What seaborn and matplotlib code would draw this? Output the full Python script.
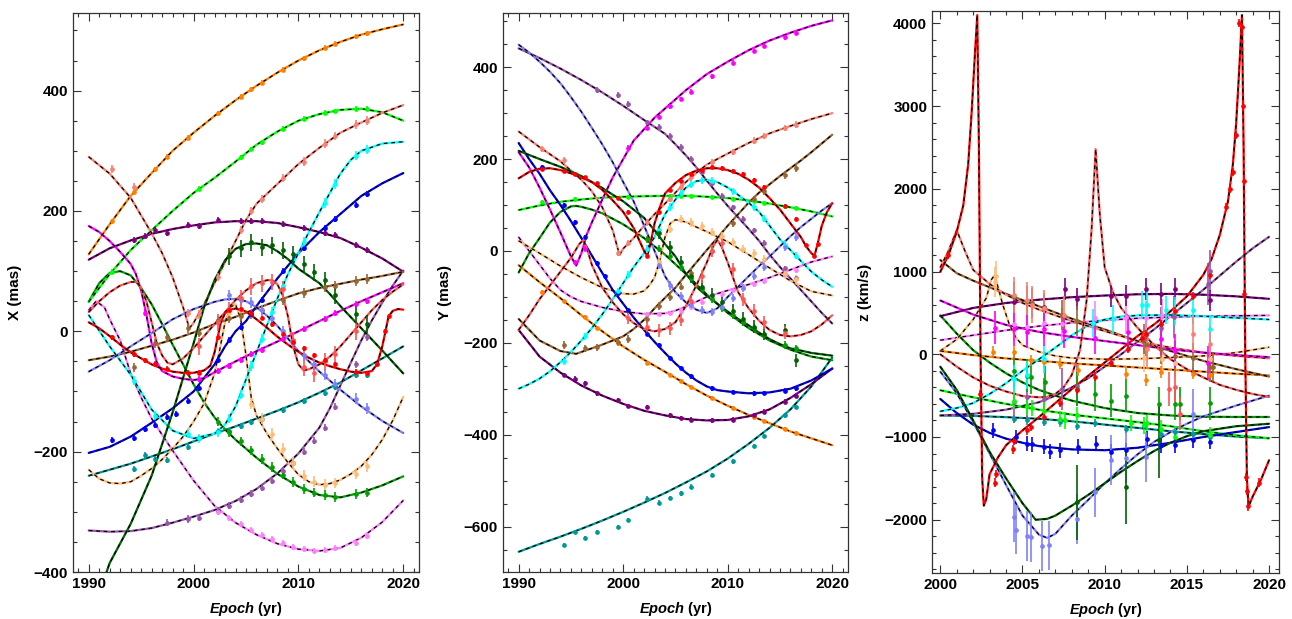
import matplotlib
matplotlib.use('Agg')
import matplotlib.pyplot as plt
import seaborn as sns
from matplotlib.ticker import MultipleLocator

# ---------------- data ----------------
yrs1 = list(range(1990, 2021))
yrs2 = list(range(1990, 2021, 2))
yrs2z = list(range(2000, 2021, 2))

# orange
t_x_orange = yrs2
x_orange = [128, 178, 225, 263, 300, 330, 358, 384, 408, 430, 450, 467, 481, 493, 502, 510]
t_y_orange = yrs2
y_orange = [-31, -68, -103, -140, -175, -208, -237, -263, -290, -315, -337, -357, -375, -393, -408, -423]
t_z_orange = yrs2z
z_orange = [40, -10, -50, -80, -110, -135, -160, -185, -210, -235, -255]
obs_t_orange = [1992.2, 1994.3, 1996.3, 1997.5, 1999.5, 2002.3, 2004.5, 2005.5, 2006.5, 2008.5, 2010.5, 2012.5, 2013.5, 2015.5, 2016.5]
obs_x_orange = [183, 231, 269, 290, 322, 362, 390, 402, 413, 435, 454, 471, 478, 490, 495]
obs_y_orange = [-90, -110, -143, -168, -200, -243, -270, -283, -296, -320, -342, -362, -371, -388, -397]
obs_tz_orange = [2003.2, 2004.5, 2005.5, 2006.3, 2007.3, 2008.4, 2011.3, 2012.5, 2013.4, 2015.4, 2016.4]
obs_z_orange = [28, 28, -73, -93, -113, -193, -234, -314, -213, -234, -254]

# lime
t_x_lime = yrs2
x_lime = [49, 95, 135, 168, 200, 230, 255, 282, 310, 332, 350, 361, 368, 370, 364, 350]
t_y_lime = yrs2
y_lime = [89, 99, 107, 112, 116, 118, 119, 120, 120, 118, 115, 110, 103, 95, 86, 75]
t_z_lime = yrs2z
z_lime = [-435, -520, -600, -670, -730, -775, -820, -870, -930, -980, -1015]
obs_t_lime = [1992.2, 1995.4, 2000.5, 2004.5, 2005.5, 2006.5, 2008.5, 2010.5, 2012.5, 2013.5, 2015.5, 2016.5]
obs_x_lime = [99, 158, 237, 289, 303, 314, 337, 353, 363, 366, 370, 370]
obs_y_lime = [107, 113, 118, 120, 120, 120, 118, 114, 109, 105, 97, 93]
obs_tz_lime = [2004.5, 2005.3, 2005.6, 2006.3, 2007.3, 2007.6, 2008.3, 2011.6, 2012.4, 2012.6, 2013.4, 2014.3, 2016.4]
obs_z_lime = [-560, -630, -650, -680, -780, -800, -740, -830, -860, -830, -900, -1000, -980]

# salmon
t_x_salmon = [1990, 1992, 1994, 1996, 1997, 1998, 1999, 1999.6, 2000, 2001, 2002, 2003, 2004, 2005, 2006, 2008, 2010, 2012, 2014, 2016, 2018, 2020]
x_salmon = [290, 262, 222, 163, 130, 90, 40, 5, 14, 45, 80, 115, 150, 185, 212, 245, 278, 305, 330, 347, 363, 376]
t_y_salmon = [1990, 1992, 1994, 1996, 1997, 1998, 1999, 1999.65, 2000, 2001, 2002, 2003, 2004, 2005, 2006, 2007, 2008, 2010, 2012, 2014, 2016, 2018, 2020]
y_salmon = [260, 226, 195, 155, 130, 95, 45, -9, 5, 28, 55, 80, 103, 127, 150, 170, 188, 212, 235, 256, 272, 287, 300]
t_z_salmon = [2000, 2000.5, 2001, 2001.5, 2002, 2003, 2004, 2005, 2006, 2008, 2010, 2012, 2014, 2016, 2018, 2020]
z_salmon = [1050, 1250, 1500, 1250, 1020, 850, 720, 620, 540, 400, 280, 160, 80, 20, -20, -50]
obs_t_salmon = [1992.2, 1994.3, 1999.5, 2000.5, 2002.3, 2004.5, 2005.5, 2006.5, 2008.5, 2010.5, 2012.5, 2013.5, 2015.5, 2016.5]
obs_x_salmon = [270, 240, 30, 28, 90, 168, 200, 220, 255, 282, 312, 325, 344, 350]
obs_y_salmon = [222, 197, -5, 17, 62, 113, 139, 160, 193, 215, 240, 250, 268, 275]
obs_tz_salmon = [2004.5, 2005.3, 2005.6, 2006.3, 2007.5, 2012.6, 2015.4, 2016.4]
obs_z_salmon = [720, 650, 600, 560, 480, 60, 250, 120]

# cyan
t_x_cyan = [1990, 1992, 1994, 1996, 1998, 2000, 2002, 2003, 2004, 2005, 2006, 2007, 2008, 2009, 2010, 2011, 2012, 2013, 2014, 2015, 2016, 2018, 2020]
x_cyan = [27, -25, -72, -130, -165, -178, -170, -155, -125, -80, -35, 10, 55, 95, 130, 165, 198, 230, 262, 285, 300, 312, 315]
t_y_cyan = yrs1
y_cyan = [-300, -290, -278, -262, -242, -220, -195, -168, -138, -105, -70, -35, -5, 30, 80, 112, 138, 152, 155, 150,
          138, 122, 105, 85, 55, 25, 2, -22, -45, -63, -78]
t_z_cyan = [2000, 2001, 2002, 2003, 2004, 2005, 2006, 2007, 2008, 2009, 2010, 2011, 2012, 2014, 2016, 2018, 2020]
z_cyan = [-690, -650, -590, -480, -350, -200, -60, 80, 230, 350, 420, 455, 470, 475, 460, 440, 420]
obs_t_cyan = [1994.3, 1996.3, 1999.5, 2000.5, 2002.3, 2003.4, 2004.5, 2005.5, 2006.5, 2007.5, 2008.5, 2010.5, 2012.5, 2013.5, 2015.5, 2016.5]
obs_x_cyan = [-82, -140, -170, -178, -168, -145, -105, -58, -12, 32, 75, 148, 213, 245, 292, 302]
obs_y_cyan = [-240, -186, -88, -52, 4, 46, 96, 126, 146, 154, 153, 130, 95, 70, 13, -10]
obs_tz_cyan = [2004.5, 2005.3, 2006.3, 2009.3, 2010.5, 2012.3, 2012.6, 2013.7, 2014.3, 2015.4, 2016.4]
obs_z_cyan = [-300, -250, -60, 380, 430, 600, 590, 530, 520, 540, 300]

# blue
t_x_blue = [1990, 1992, 1994, 1996, 1998, 2000, 2002, 2003, 2004, 2005, 2006, 2008, 2010, 2012, 2014, 2016, 2018, 2020]
x_blue = [-202, -192, -175, -152, -128, -100, -55, -25, 0, 17, 42, 88, 130, 165, 195, 225, 246, 263]
t_y_blue = list(range(1990, 2011)) + [2012, 2014, 2016, 2018, 2020]
y_blue = [235, 200, 168, 132, 100, 65, 28, -10, -48, -85, -115, -145, -172, -198, -222, -245, -265, -282, -295, -303,
          -306, -310, -308, -300, -282, -256]
t_z_blue = [2000, 2001, 2002, 2003, 2004, 2005, 2006, 2008, 2010, 2012, 2014, 2016, 2018, 2020]
z_blue = [-540, -710, -850, -950, -1020, -1070, -1110, -1150, -1160, -1130, -1070, -1000, -940, -880]
obs_t_blue = [1992.2, 1994.3, 1995.4, 1996.3, 1997.5, 1998.3, 1999.5, 2000.5, 2002.3, 2003.4, 2004.5, 2005.5, 2006.5, 2008.5, 2010.5, 2012.5, 2013.5, 2015.5, 2016.5]
obs_x_blue = [-180, -178, -163, -155, -142, -137, -115, -95, -48, -15, 8, 28, 52, 100, 138, 172, 187, 210, 228]
obs_y_blue = [182, 99, 62, 30, -27, -55, -92, -129, -180, -205, -233, -255, -273, -299, -307, -310, -309, -304, -299]
obs_tz_blue = [2003.2, 2004.6, 2005.3, 2005.6, 2006.3, 2006.7, 2007.3, 2008.4, 2009.5, 2010.4, 2011.3, 2012.6, 2013.4, 2014.3, 2015.4, 2016.4]
obs_z_blue = [-920, -1000, -1080, -1090, -1120, -1180, -1160, -1120, -1080, -1180, -1160, -1020, -1100, -1100, -1040, -1060]

# purple
t_x_purple = yrs2
x_purple = [119, 138, 151, 162, 170, 176, 181, 183, 183, 180, 173, 165, 155, 139, 121, 99]
t_y_purple = yrs2
y_purple = [-172, -230, -265, -293, -315, -333, -348, -358, -366, -369, -368, -360, -345, -320, -290, -256]
t_z_purple = yrs2z
z_purple = [460, 560, 620, 660, 690, 710, 725, 730, 720, 700, 670]
obs_t_purple = [1994.3, 1995.4, 1996.3, 1997.5, 1999.5, 2000.5, 2002.3, 2004.5, 2005.5, 2006.5, 2008.5, 2010.5, 2012.5, 2013.5, 2015.5, 2016.5]
obs_x_purple = [152, 158, 168, 163, 176, 175, 185, 183, 183, 183, 179, 172, 163, 160, 143, 135]
obs_y_purple = [-270, -278, -288, -310, -325, -338, -340, -358, -364, -367, -369, -367, -357, -350, -328, -315]
obs_tz_purple = [2004.5, 2006.3, 2007.6, 2008.3, 2010.4, 2011.3, 2012.5, 2013.4, 2014.3, 2016.4]
obs_z_purple = [630, 570, 790, 670, 700, 710, 790, 730, 790, 650]

# dark green
t_x_dkgreen = [1991.6, 1992, 1994, 1996, 1998, 2000, 2001, 2002, 2003, 2004, 2005, 2006, 2007, 2008, 2009, 2010, 2011, 2012, 2013, 2014, 2016, 2018, 2020]
x_dkgreen = [-405, -385, -320, -240, -135, -20, 40, 85, 118, 137, 145, 146, 143, 133, 120, 104, 92, 80, 62, 42, 5, -32, -70]
t_y_dkgreen = [1990, 1992, 1994, 1996, 1998, 2000, 2002, 2003, 2004, 2005, 2006, 2007, 2008, 2009, 2010, 2011, 2012, 2013, 2014, 2015, 2016, 2018, 2020]
y_dkgreen = [218, 200, 183, 163, 137, 108, 72, 45, 15, -12, -50, -78, -98, -115, -132, -148, -162, -178, -192, -203, -212, -222, -228]
t_z_dkgreen = [2000, 2001, 2002, 2003, 2004, 2005, 2005.8, 2006.5, 2007, 2008, 2009, 2010, 2011, 2012, 2013, 2014, 2015, 2016, 2018, 2020]
z_dkgreen = [-150, -430, -800, -1180, -1500, -1800, -2000, -1990, -1950, -1830, -1700, -1560, -1420, -1290, -1170, -1070, -990, -930, -870, -840]
obs_t_dkgreen = [2003.4, 2004.5, 2005.5, 2006.5, 2007.5, 2008.5, 2009.5, 2010.5, 2011.5, 2012.5, 2013.5, 2015.5, 2016.5]
obs_x_dkgreen = [125, 138, 148, 140, 143, 135, 128, 112, 98, 85, 60, 28, 12]
obs_y_dkgreen = [40, 8, -25, -55, -78, -95, -112, -130, -148, -165, -180, -172, -238]
obs_tz_dkgreen = [2008.3, 2011.3, 2013.3]
obs_z_dkgreen = [-1790, -1600, -1040]

# brown
t_x_brown = yrs2
x_brown = [-48, -42, -34, -24, -14, -2, 12, 24, 38, 51, 63, 72, 79, 86, 92, 99]
t_y_brown = [1990, 1992, 1994, 1995.5, 1997, 1998, 2000, 2001, 2002, 2003, 2004, 2005, 2006, 2007, 2008, 2009, 2010, 2011, 2012, 2013, 2014, 2015, 2016, 2017, 2018, 2019, 2020]
y_brown = [-148, -195, -218, -224, -212, -204, -186, -170, -150, -125, -102, -80, -52, -25, 2, 28, 55, 80, 105, 127, 145, 163, 180, 197, 215, 234, 253]
t_z_brown = [2000, 2001, 2002, 2004, 2006, 2008, 2010, 2012, 2014, 2016, 2018, 2020]
z_brown = [1140, 980, 890, 730, 580, 430, 300, 160, 40, -80, -180, -270]
obs_t_brown = [1994.3, 1996.3, 1997.5, 1999.5, 2000.5, 2002.3, 2003.4, 2004.5, 2005.5, 2006.5, 2008.5, 2010.5, 2012.5, 2013.5, 2015.5, 2016.5]
obs_x_brown = [-60, -20, -10, 5, -2, 18, 22, 25, 28, 36, 52, 64, 73, 76, 84, 87]
obs_y_brown = [-205, -212, -210, -198, -192, -148, -120, -100, -78, -48, 0, 60, 112, 130, 165, 180]
obs_tz_brown = [2004.5, 2005.3, 2005.6, 2006.3, 2007.4, 2008.3, 2012.4, 2012.6, 2013.4, 2014.3, 2015.4, 2016.4, 2016.6]
obs_z_brown = [690, 640, 620, 560, 470, 400, 180, 110, 60, -20, -40, -150, -150]

# magenta
t_x_magenta = [1990, 1991, 1992, 1993, 1994, 1994.5, 1995, 1995.5, 1996, 1996.5, 1997, 1998, 1999, 2000, 2001, 2002, 2004, 2006, 2008, 2010, 2012, 2014, 2016, 2018, 2020]
x_magenta = [175, 165, 150, 132, 112, 95, 68, 28, -20, -52, -66, -75, -79, -81, -78, -68, -50, -33, -17, 0, 17, 34, 50, 65, 80]
t_y_magenta = [1990, 1991, 1992, 1993, 1994, 1995, 1995.5, 1996, 1996.5, 1997, 1998, 1999, 2000, 2001, 2002, 2003, 2004, 2006, 2008, 2010, 2012, 2014, 2016, 2018, 2020]
y_magenta = [215, 182, 138, 90, 40, -12, -32, -5, 35, 62, 112, 160, 200, 240, 265, 290, 310, 350, 385, 412, 437, 458, 475, 490, 502]
t_z_magenta = yrs2z
z_magenta = [650, 480, 355, 270, 210, 160, 110, 60, 20, -10, -35]
obs_t_magenta = [1995.4, 1996.3, 2000.5, 2002.3, 2003.4, 2004.5, 2005.5, 2006.5, 2008.5, 2010.5, 2012.5, 2013.5, 2015.5, 2016.5]
obs_x_magenta = [30, -55, -80, -66, -58, -47, -38, -31, -13, 4, 21, 30, 45, 51]
obs_y_magenta = [-25, 5, 225, 268, 292, 315, 331, 347, 380, 410, 435, 447, 465, 475]
obs_tz_magenta = [2003.3, 2004.5, 2005.3, 2006.3, 2007.5, 2009.4, 2011.4, 2013.4, 2014.3, 2016.3]
obs_z_magenta = [320, 300, 270, 300, 280, 200, 270, 190, 40, -100]

# slate blue
t_x_slate = [1990, 1992, 1994, 1996, 1998, 2000, 2002, 2003, 2004, 2005, 2006, 2007, 2008, 2009, 2010, 2012, 2014, 2016, 2018, 2020]
x_slate = [-67, -48, -25, -3, 20, 37, 49, 53, 54, 50, 40, 26, 9, -12, -33, -67, -97, -125, -149, -169]
t_y_slate = yrs1
y_slate = [449, 432, 412, 390, 365, 335, 303, 268, 232, 193, 150, 108, 55, 0, -55, -90, -112, -128, -135, -125,
           -100, -78, -55, -33, -12, 10, 32, 52, 70, 88, 104]
t_z_slate = [2000, 2001, 2002, 2003, 2004, 2005, 2006, 2006.5, 2007, 2008, 2009, 2010, 2011, 2012, 2013, 2014, 2015, 2016, 2018, 2020]
z_slate = [-210, -470, -820, -1200, -1580, -1950, -2180, -2220, -2170, -1950, -1760, -1560, -1380, -1210, -1060, -940, -840, -750, -620, -500]
obs_t_slate = [2003.4, 2004.5, 2005.5, 2006.5, 2007.5, 2008.5, 2009.5, 2010.5, 2011.5, 2012.5, 2013.5, 2015.5, 2016.5]
obs_x_slate = [60, 52, 48, 35, 22, 0, -20, -40, -55, -72, -88, -112, -128]
obs_y_slate = [-30, -75, -98, -118, -128, -133, -122, -102, -80, -55, -35, 8, 30]
obs_tz_slate = [2004.5, 2004.6, 2005.3, 2005.5, 2006.2, 2006.6, 2008.3, 2009.4, 2010.4, 2011.3, 2012.5, 2015.4]
obs_z_slate = [-1970, -2120, -2200, -2210, -2320, -2310, -1990, -1670, -1280, -1250, -1240, -720]

# light red
t_x_ltred = [1990, 1991, 1992, 1993, 1994, 1994.6, 1995, 1995.5, 1996, 1996.5, 1997, 1997.5, 1998, 1999, 2000, 2001, 2002, 2003, 2004, 2005,
             2006, 2007, 2007.5, 2008, 2008.5, 2009, 2009.5, 2010, 2010.5, 2011, 2012, 2013, 2014, 2015, 2016, 2017, 2018, 2019, 2020]
x_ltred = [32, 50, 65, 76, 82, 82, 72, 50, 15, -20, -40, -52, -55, -45, -28, -8, 12, 32, 52, 68,
           80, 85, 85, 78, 60, 25, -25, -55, -65, -63, -55, -42, -25, -5, 15, 35, 52, 66, 78]
t_y_ltred = [1990, 1991, 1992, 1993, 1994, 1995, 1995.8, 1996.2, 1996.6, 1997, 1998, 1999, 2000, 2001, 2002, 2003, 2004, 2005, 2006, 2007,
             2008, 2008.6, 2009, 2009.4, 2010, 2011, 2012, 2013, 2014, 2015, 2016, 2017, 2018, 2019, 2020]
y_ltred = [-172, -140, -105, -75, -45, -15, 15, 24, 0, -30, -80, -112, -138, -157, -170, -175, -170, -155, -120, -75,
           -25, 10, 24, 10, -25, -90, -125, -152, -172, -183, -186, -183, -175, -160, -140]
t_z_ltred = [2000, 2001, 2002, 2003, 2004, 2005, 2006, 2006.5, 2007, 2007.5, 2008, 2008.5, 2008.9, 2009.2, 2009.45, 2009.7, 2010, 2010.5, 2011, 2012,
             2013, 2014, 2015, 2016, 2017, 2018, 2019, 2020]
z_ltred = [0, -150, -280, -380, -450, -505, -520, -515, -480, -400, -250, 50, 650, 1500, 2480, 1700, 1050, 750, 560, 320,
           110, -60, -180, -280, -370, -430, -480, -516]
obs_t_ltred = [2000.5, 2002.3, 2003.4, 2004.5, 2005.5, 2006.5, 2007.5, 2008.5, 2009.5, 2010.5, 2011.5, 2012.5, 2013.5, 2015.5]
obs_x_ltred = [-25, 15, 35, 55, 75, 80, 82, 70, -15, -60, -70, -50, -38, 0]
obs_y_ltred = [-145, -165, -173, -168, -150, -110, -55, 0, 18, -40, -105, -130, -155, -178]
obs_tz_ltred = [2013.9, 2014.3, 2014.6]
obs_z_ltred = [-420, -400, -720]

# teal
t_x_teal = yrs2
x_teal = [-240, -230, -220, -208, -196, -183, -170, -158, -145, -132, -118, -102, -85, -65, -45, -25]
t_y_teal = yrs2
y_teal = [-655, -638, -622, -605, -587, -568, -548, -527, -504, -480, -452, -420, -385, -345, -295, -232]
t_z_teal = yrs2z
z_teal = [-740, -745, -760, -780, -810, -850, -890, -930, -965, -995, -1015]
obs_t_teal = [1994.3, 1995.4, 1996.3, 1997.5, 1999.5, 2000.5, 2002.3, 2003.4, 2004.5, 2005.5, 2006.5, 2008.5, 2010.5, 2012.5, 2013.5, 2015.5, 2016.5]
obs_x_teal = [-228, -206, -212, -214, -192, -178, -165, -165, -158, -150, -145, -130, -115, -102, -92, -72, -72]
obs_y_teal = [-640, -612, -625, -612, -601, -586, -539, -548, -538, -528, -513, -488, -458, -425, -403, -358, -340]
obs_tz_teal = [2004.5, 2005.3, 2006.3, 2007.3, 2008.3, 2009.4, 2011.3, 2012.4, 2013.4, 2014.3, 2015.4, 2016.4]
obs_z_teal = [-780, -800, -820, -820, -870, -830, -900, -870, -960, -940, -960, -1000]

# peach
t_x_peach = [1990, 1991, 1992, 1993, 1994, 1995, 1996, 1997, 1998, 1999, 2000, 2001, 2002, 2002.5, 2003, 2003.5, 2004, 2004.5, 2005, 2005.5,
             2006, 2007, 2008, 2009, 2010, 2011, 2012, 2013, 2014, 2015, 2016, 2017, 2018, 2019, 2020]
x_peach = [-230, -245, -252, -253, -250, -240, -228, -213, -195, -175, -150, -120, -70, -30, 15, 40, 45, 20, -40, -110,
           -140, -170, -195, -218, -238, -250, -255, -253, -247, -237, -224, -205, -180, -148, -109]
t_y_peach = [1990, 1992, 1994, 1996, 1998, 2000, 2001, 2002, 2002.5, 2003, 2003.5, 2004, 2004.5, 2005, 2006, 2007, 2008, 2010, 2012, 2014, 2016, 2018, 2020]
y_peach = [22, -5, -33, -58, -80, -93, -94, -87, -75, -58, -20, 30, 60, 68, 63, 52, 42, 20, -8, -37, -65, -88, -97]
t_z_peach = [2000, 2001, 2002, 2002.8, 2003.1, 2003.3, 2003.5, 2003.8, 2004.2, 2004.6, 2005, 2006, 2007, 2008, 2010, 2012, 2014, 2016, 2018, 2020]
z_peach = [40, 180, 420, 680, 900, 955, 820, 600, 360, 200, 110, 30, -20, -45, -60, -55, -40, -20, 20, 85]
obs_t_peach = [2003.4, 2004.5, 2005.5, 2006.5, 2007.5, 2008.5, 2009.5, 2010.5, 2011.5, 2012.5, 2013.5, 2015.5, 2016.5]
obs_x_peach = [30, 35, -120, -145, -170, -195, -218, -240, -250, -255, -252, -237, -224]
obs_y_peach = [-25, 48, 70, 62, 55, 42, 32, 20, 5, -5, -18, -48, -62]
obs_tz_peach = [2003.3, 2003.4, 2012.4, 2013.5, 2014.3, 2016.4]
obs_z_peach = [870, 950, -40, -60, -100, -60]

# green
t_x_green = [1990, 1991, 1992, 1993, 1994, 1995, 1996, 1997, 1998, 1999, 2000, 2001, 2002, 2003, 2004, 2006, 2008, 2010, 2012, 2014, 2016, 2018, 2020]
x_green = [49, 80, 97, 100, 93, 72, 45, 12, -22, -55, -88, -118, -143, -163, -180, -210, -237, -258, -272, -276, -268, -256, -241]
t_y_green = [1990, 1991, 1992, 1993, 1994, 1995, 1995.5, 1996, 1997, 1998, 2000, 2002, 2004, 2006, 2008, 2010, 2012, 2014, 2016, 2018, 2020]
y_green = [-47, -5, 28, 62, 85, 97, 98, 96, 90, 82, 58, 28, -8, -50, -95, -135, -168, -195, -215, -230, -238]
t_z_green = [2000, 2001, 2002, 2003, 2004, 2005, 2006, 2007, 2008, 2010, 2012, 2014, 2016, 2018, 2020]
z_green = [470, 250, 50, -100, -230, -340, -430, -500, -560, -650, -710, -740, -755, -758, -758]
obs_t_green = [2002.3, 2003.4, 2004.5, 2005.5, 2006.5, 2007.5, 2008.5, 2009.5, 2010.5, 2011.5, 2012.5, 2013.5, 2015.5, 2016.5]
obs_x_green = [-150, -168, -183, -198, -212, -225, -238, -250, -262, -268, -272, -275, -270, -268]
obs_y_green = [25, 5, -12, -35, -60, -82, -105, -125, -140, -155, -168, -182, -205, -212]
obs_tz_green = [2004.5, 2005.3, 2005.5, 2006.4, 2008.3, 2009.4, 2010.4, 2011.3, 2013.3, 2014.3, 2014.6, 2016.4]
obs_z_green = [-200, -260, -280, -340, -420, -480, -560, -500, -600, -600, -600, -590]

# orchid
t_x_orchid = [1990, 1992, 1994, 1996, 1998, 2000, 2002, 2004, 2006, 2008, 2010, 2012, 2013, 2014, 2015, 2016, 2017, 2018, 2019, 2020]
x_orchid = [-331, -333, -332, -327, -318, -308, -297, -282, -262, -236, -203, -160, -128, -90, -52, -15, 18, 48, 76, 101]
t_y_orchid = [1990, 1992, 1994, 1996, 1998, 2000, 2002, 2004, 2005, 2006, 2007, 2008, 2009, 2010, 2011, 2012, 2013, 2014, 2015, 2016, 2017, 2018, 2019, 2020]
y_orchid = [441, 420, 397, 372, 345, 316, 285, 255, 232, 208, 182, 153, 125, 98, 73, 48, 22, -8, -35, -60, -85, -110, -135, -158]
t_z_orchid = [2000, 2002, 2004, 2006, 2007, 2008, 2009, 2010, 2011, 2012, 2013, 2014, 2015, 2016, 2017, 2018, 2019, 2020]
z_orchid = [-740, -720, -670, -580, -500, -400, -290, -150, 0, 150, 300, 460, 620, 780, 950, 1120, 1280, 1420]
obs_t_orchid = [1997.5, 1999.5, 2000.5, 2002.3, 2003.4, 2004.5, 2005.5, 2006.5, 2007.5, 2008.5, 2009.5, 2010.5, 2011.5, 2012.5, 2013.5, 2015.5, 2016.5]
obs_x_orchid = [-318, -312, -310, -298, -290, -280, -270, -260, -248, -232, -218, -200, -182, -160, -125, -55, -10]
obs_y_orchid = [350, 340, 320, 280, 270, 250, 226, 200, 172, 147, 120, 95, 70, 45, 18, -38, -60]
obs_tz_orchid = [2004.5, 2005.3, 2006.3, 2007.4, 2008.3, 2012.5, 2013.4, 2014.2, 2016.3, 2016.4]
obs_z_orchid = [-580, -520, -540, -420, -380, 230, 320, 450, 850, 1010]

# violet
t_x_violet = [1990, 1990.7, 1991.5, 1992, 1993, 1994, 1995, 1996, 1997, 1998, 2000, 2002, 2004, 2006, 2008, 2010, 2012, 2014, 2016, 2018, 2020]
x_violet = [35, 50, 40, 20, -15, -70, -110, -145, -172, -198, -248, -290, -318, -338, -353, -362, -365, -360, -343, -317, -281]
t_y_violet = [1990, 1991, 1992, 1993, 1994, 1995, 1996, 1998, 2000, 2002, 2004, 2005, 2006, 2008, 2010, 2012, 2014, 2016, 2018, 2020]
y_violet = [30, 0, -30, -60, -85, -100, -110, -123, -132, -137, -136, -130, -121, -100, -86, -73, -58, -41, -24, -12]
t_z_violet = yrs2z
z_violet = [170, 230, 290, 340, 380, 410, 435, 450, 460, 465, 470]
obs_t_violet = [2002.3, 2003.4, 2004.5, 2005.5, 2006.5, 2007.5, 2008.5, 2009.5, 2010.5, 2011.5, 2012.5, 2013.5, 2015.5, 2016.5]
obs_x_violet = [-300, -310, -320, -330, -338, -345, -352, -358, -362, -365, -363, -360, -352, -340]
obs_y_violet = [-137, -137, -135, -130, -122, -112, -100, -93, -86, -80, -73, -66, -50, -42]
obs_tz_violet = [2004.5, 2005.3, 2006.3, 2007.4, 2009.4, 2011.3, 2012.5, 2013.5]
obs_z_violet = [360, 330, 380, 360, 440, 450, 440, 470]

# S2 (red)
t_x_s2 = [1990, 1991, 1992, 1993, 1994, 1995, 1996, 1997, 1998, 1999, 2000, 2001, 2001.6, 2002, 2002.3, 2002.6, 2003, 2003.5, 2004, 2005,
          2006, 2007, 2008, 2009, 2010, 2011, 2012, 2013, 2014, 2015, 2016, 2017, 2017.5, 2018, 2018.3, 2018.6, 2019, 2019.5, 2020]
x_s2 = [15, 5, -8, -22, -35, -45, -55, -62, -67, -69, -69, -65, -57, -35, -10, 15, 30, 36, 38, 33,
        20, 6, -9, -22, -34, -44, -52, -58, -63, -67, -69, -66, -55, -25, 0, 25, 34, 37, 36]
t_y_s2 = [1990, 1991, 1992, 1993, 1994, 1995, 1996, 1997, 1998, 1999, 2000, 2001, 2001.5, 2002, 2002.3, 2002.6, 2003, 2003.5, 2004, 2005,
          2006, 2007, 2008, 2009, 2010, 2011, 2012, 2013, 2014, 2015, 2016, 2017, 2017.5, 2018, 2018.3, 2018.6, 2019, 2019.5, 2020]
y_s2 = [158, 172, 179, 180, 176, 169, 160, 150, 133, 110, 85, 50, 25, 0, -10, 15, 60, 95, 125, 148,
        165, 175, 180, 180, 176, 168, 155, 138, 115, 90, 60, 30, 10, -5, -10, 15, 55, 85, 104]
t_z_s2 = [2000, 2000.5, 2001, 2001.4, 2001.7, 2001.9, 2002.1, 2002.25, 2002.35, 2002.45, 2002.55, 2002.65, 2002.8, 2003, 2003.5, 2004, 2005, 2006, 2007, 2008,
          2009, 2010, 2011, 2012, 2013, 2014, 2015, 2016, 2016.5, 2017, 2017.5, 2017.8, 2018, 2018.2, 2018.35, 2018.45, 2018.55, 2018.65, 2018.75, 2019,
          2019.5, 2020]
z_s2 = [996, 1200, 1480, 1800, 2300, 2900, 3600, 4100, 2500, 0, -1500, -1830, -1750, -1450, -1250, -1100, -920, -760, -590, -420,
        -260, -100, 60, 220, 360, 520, 700, 960, 1150, 1440, 1850, 2300, 2800, 3500, 4100, 2500, 0, -1500, -1840, -1720,
        -1520, -1280]
obs_t_s2 = [1992.2, 1994.3, 1995.4, 1996.3, 1997.5, 1999.5, 2000.5, 2002.3, 2003.4, 2004.5, 2005.5, 2006.5, 2007.5, 2008.5, 2009.5, 2010.5,
            2011.5, 2012.5, 2013.5, 2015.5, 2016.5, 2017.5, 2018.3, 2018.6]
obs_x_s2 = [-10, -38, -48, -55, -62, -69, -69, -10, 35, 37, 31, 22, 12, -4, -17, -28, -40, -48, -55, -67, -70, -55, 0, 25]
obs_y_s2 = [179, 175, 168, 160, 147, 115, 85, -10, 85, 133, 152, 168, 177, 182, 180, 175, 167, 155, 140, 98, 70, 12, -10, 15]
obs_tz_s2 = [2000.5, 2002.4, 2003.3, 2003.4, 2004.4, 2004.5, 2005.3, 2005.5, 2006.3, 2007.3, 2008.3, 2009.4, 2010.4, 2011.4, 2012.3, 2012.5,
             2013.4, 2014.3, 2015.4, 2016.4, 2017.4, 2017.6, 2017.8, 2018.0, 2018.2, 2018.35, 2018.4, 2018.45, 2018.5, 2018.6,
             2018.65, 2018.7, 2019.4]
obs_z_s2 = [1200, -476, -1550, -1450, -1150, -1050, -920, -880, -760, -590, -430, -270, -100, 60, 200, 240,
            360, 520, 700, 960, 1780, 2000, 2200, 2650, 4000, 3950, 3000, 2100, 730, -1480,
            -1650, -1840, -1550]

# colours and error bar sizes (xy in mas, z in km/s)
star_colors = {'orange': '#FF8000', 'lime': '#00FF00', 'salmon': '#FA8072', 'cyan': '#00FFFF',
               'blue': '#0000FF', 'purple': '#800080', 'dkgreen': '#006400', 'brown': '#996633',
               'magenta': '#FF00FF', 'slate': '#8080FF', 'ltred': '#FF5555', 'teal': '#009999',
               'peach': '#FFBB77', 'green': '#00A000', 'orchid': '#9955AA', 'violet': '#FF80FF',
               's2': '#FF0000'}
err_xy = {'orange': 4, 'lime': 4, 'salmon': 7, 'cyan': 8, 'blue': 5, 'purple': 5, 'dkgreen': 14,
          'brown': 8, 'magenta': 5, 'slate': 9, 'ltred': 14, 'teal': 5, 'peach': 9, 'green': 8,
          'orchid': 6, 'violet': 5, 's2': 4}
err_z = {'orange': 70, 'lime': 100, 'salmon': 220, 'cyan': 170, 'blue': 90, 'purple': 130, 'dkgreen': 450,
         'brown': 180, 'magenta': 200, 'slate': 300, 'ltred': 200, 'teal': 50, 'peach': 180, 'green': 200,
         'orchid': 250, 'violet': 200, 's2': 50}

# ---------------- plotting ----------------
sns.set_style('ticks')
plt.rcParams['font.family'] = ['Liberation Sans', 'DejaVu Sans']
plt.rcParams['font.weight'] = 'bold'
plt.rcParams['axes.labelweight'] = 'bold'
plt.rcParams['text.color'] = 'black'
plt.rcParams['axes.labelcolor'] = 'black'
plt.rcParams['mathtext.fontset'] = 'custom'
plt.rcParams['mathtext.bfit'] = 'Liberation Sans:italic:bold'
plt.rcParams['mathtext.rm'] = 'Liberation Sans:bold'

names = ['teal', 'orchid', 'violet', 'green', 'peach', 'orange', 'lime', 'purple', 'brown', 'blue',
         'cyan', 'salmon', 'magenta', 'slate', 'dkgreen', 'ltred', 's2']
g = globals()

fig = plt.figure(figsize=(12.92, 6.19), dpi=100)
ax1 = fig.add_axes([0.0565, 0.0759, 0.2678, 0.9031])
ax2 = fig.add_axes([0.3893, 0.0759, 0.2670, 0.9031])
ax3 = fig.add_axes([0.7214, 0.0743, 0.2685, 0.9079])


def draw_model(ax, t, v, color):
    sns.lineplot(x=t, y=v, ax=ax, color=color, lw=1.6, estimator=None, sort=False, zorder=2)
    sns.lineplot(x=t, y=v, ax=ax, color='black', lw=0.9, linestyle=(0, (3, 3)),
                 estimator=None, sort=False, zorder=2)


def draw_obs(ax, t, v, err, color):
    ax.errorbar(t, v, yerr=err, fmt='o', color=color, ms=3.4, mec='none',
                elinewidth=1.2, capsize=0, zorder=3)


for n in names:
    c = star_colors[n]
    draw_model(ax1, g['t_x_' + n], g['x_' + n], c)
    draw_model(ax2, g['t_y_' + n], g['y_' + n], c)
    draw_model(ax3, g['t_z_' + n], g['z_' + n], c)
    draw_obs(ax1, g['obs_t_' + n], g['obs_x_' + n], err_xy[n], c)
    draw_obs(ax2, g['obs_t_' + n], g['obs_y_' + n], err_xy[n], c)
    draw_obs(ax3, g['obs_tz_' + n], g['obs_z_' + n], err_z[n], c)


def style_axis(ax, xlim, ylim, xmaj, xmin, ymaj, ymin):
    ax.set_xlim(*xlim)
    ax.set_ylim(*ylim)
    ax.xaxis.set_major_locator(MultipleLocator(xmaj))
    ax.xaxis.set_minor_locator(MultipleLocator(xmin))
    ax.yaxis.set_major_locator(MultipleLocator(ymaj))
    ax.yaxis.set_minor_locator(MultipleLocator(ymin))
    ax.tick_params(which='both', direction='in', top=True, right=True,
                   labelsize=11, width=0.8, color='#333333', labelcolor='black')
    ax.tick_params(which='major', length=6)
    ax.tick_params(which='minor', length=3)
    for s in ax.spines.values():
        s.set_linewidth(0.9)
        s.set_color('#333333')
    ax.set_xlabel(r'$\mathbfit{Epoch}$ (yr)', fontsize=10.5, fontweight='bold')
    ax.xaxis.set_label_coords(0.5, -0.05)


style_axis(ax1, (1988.5, 2021.5), (-400, 529), 10, 1, 200, 50)
style_axis(ax2, (1988.5, 2021.5), (-699, 518), 10, 1, 200, 50)
style_axis(ax3, (1999.5, 2020.6), (-2644, 4149), 5, 1, 1000, 200)

ax1.set_ylabel('X (mas)', fontsize=11, fontweight='bold')
ax2.set_ylabel('Y (mas)', fontsize=11, fontweight='bold')
ax3.set_ylabel('z (km/s)', fontsize=11, fontweight='bold')
ax1.yaxis.set_label_coords(-0.147, 0.5)
ax2.yaxis.set_label_coords(-0.148, 0.5)
ax3.yaxis.set_label_coords(-0.173, 0.5)

fig.savefig('out.png', dpi=100)
